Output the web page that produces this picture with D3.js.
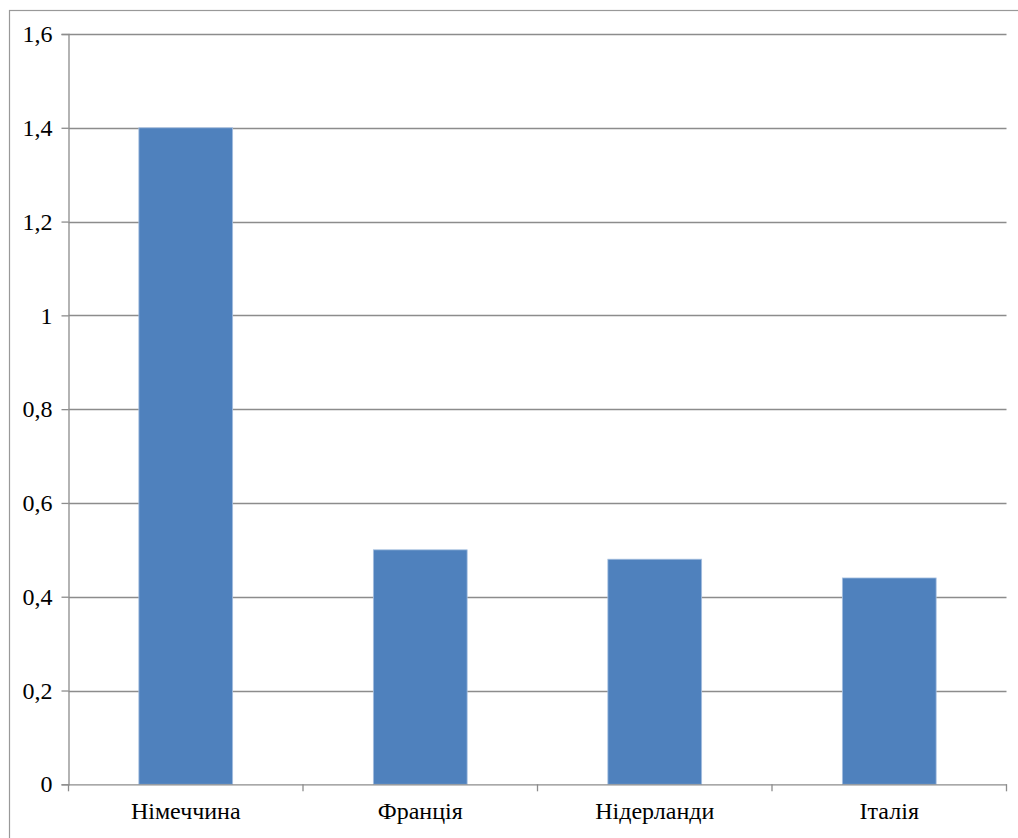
<!DOCTYPE html>
<html><head><meta charset="utf-8">
<script src="https://cdn.jsdelivr.net/npm/d3@7"></script>
<style>html,body{margin:0;padding:0;background:#fff;}svg{display:block;}</style>
</head><body>
<svg id="chart" width="1018" height="838"></svg>
<script>
const categories = ["Німеччина", "Франція", "Нідерланди", "Італія"];
const values = [1.4, 0.5, 0.48, 0.44];
const yTicks = [0, 0.2, 0.4, 0.6, 0.8, 1, 1.2, 1.4, 1.6];

const svg = d3.select("#chart");
const mLeft = 68.5, mRight = 1006.5, mTop = 34, mBottom = 784.3;
const font = "'Times New Roman', Times, Tinos, 'Liberation Serif', 'Noto Serif', 'DejaVu Serif', FreeSerif, serif";
const fsize = 24;

// outer border
svg.append("rect").attr("x", 9.5).attr("y", 10.5).attr("width", 1030).attr("height", 850)
  .attr("fill", "none").attr("stroke", "#999").attr("stroke-width", 1.2);

const x = d3.scaleBand().domain(categories).range([mLeft, mRight]).paddingInner(0.6).paddingOuter(0.3);
const xb = d3.scaleBand().domain(categories).range([mLeft, mRight]);
const y = d3.scaleLinear().domain([0, 1.6]).range([mBottom, mTop]);

// gridlines
svg.append("g").selectAll("line").data(yTicks.filter(d => d > 0)).join("line")
  .attr("x1", mLeft).attr("x2", mRight)
  .attr("y1", d => Math.round(y(d)) + 0.5).attr("y2", d => Math.round(y(d)) + 0.5)
  .attr("stroke", "#8c8c8c").attr("stroke-width", 1.3);

// bars
svg.append("g").selectAll("rect").data(values).join("rect")
  .attr("x", (d, i) => x(categories[i]))
  .attr("width", x.bandwidth())
  .attr("y", d => y(d))
  .attr("height", d => y(0) - y(d))
  .attr("fill", "#4f81bd")
  .attr("stroke", "#a7c0e0").attr("stroke-width", 0.8);

// y axis
const yAxis = d3.axisLeft(y).tickValues(yTicks).tickSize(7).tickPadding(9)
  .tickFormat(d => String(d).replace(".", ","));
const gy = svg.append("g").attr("transform", `translate(${mLeft},0)`).call(yAxis);
gy.select(".domain").attr("stroke", "#8c8c8c").attr("stroke-width", 1.3);
gy.selectAll(".tick line").attr("stroke", "#8c8c8c").attr("stroke-width", 1.3);
gy.selectAll("text").style("font-family", font).style("font-size", fsize + "px").attr("fill", "#000");

// x axis
const gx = svg.append("g").attr("transform", `translate(0,${mBottom})`)
  .call(d3.axisBottom(xb).tickSize(0).tickPadding(18));
gx.select(".domain").attr("stroke", "#8c8c8c").attr("stroke-width", 1.3);
gx.selectAll("text").style("font-family", font).style("font-size", fsize + "px").attr("fill", "#000");
// category boundary ticks
const bounds = categories.map(c => xb(c)).concat([mRight]);
svg.append("g").selectAll("line").data(bounds).join("line")
  .attr("x1", d => d).attr("x2", d => d).attr("y1", mBottom).attr("y2", mBottom + 7)
  .attr("stroke", "#8c8c8c").attr("stroke-width", 1.3);
</script>
</body></html>
